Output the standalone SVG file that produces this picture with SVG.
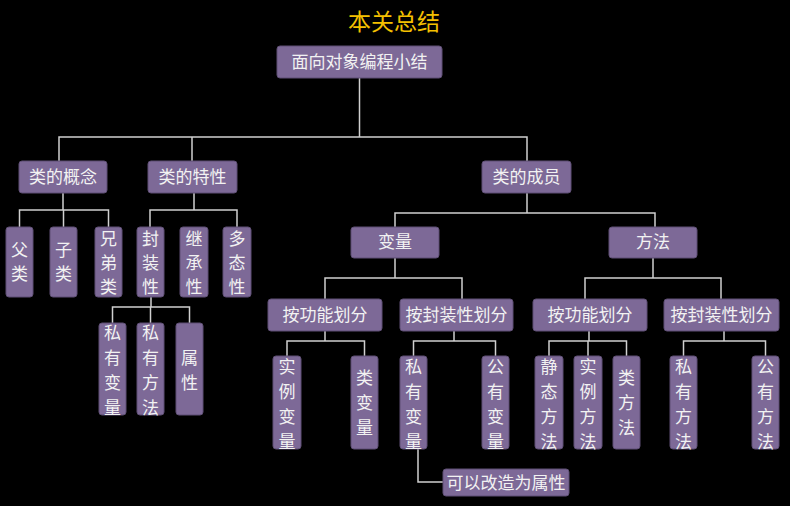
<svg xmlns="http://www.w3.org/2000/svg" width="790" height="506" viewBox="0 0 790 506">
<style>
.bg{fill:#000}
.box{fill:#7D6997;stroke:#5E4F74;stroke-width:1}
.t{font-family:"Noto Sans CJK SC","Noto Sans",sans-serif;font-size:17px;fill:#F2F2F2;text-anchor:middle}
.title{font-family:"Noto Sans CJK SC","Noto Sans",sans-serif;font-size:23px;fill:#F5C000;text-anchor:middle}
.ln{fill:none;stroke:#D0D0D0;stroke-width:1.5}
</style>
<rect class="bg" x="0" y="0" width="790" height="506"/>
<text class="title" x="394" y="30">本关总结</text>
<g id="connectors">
<path class="ln" d="M359.5 78V137M59 161V137H527V161M192 137V161"/>
<path class="ln" d="M63 193V210M19.5 227V210H108.5V227M63.5 210V227"/>
<path class="ln" d="M194 193V210M150 227V210H237V227"/>
<path class="ln" d="M151 297V307M112.5 323V307H189.5V323M150.5 307V323"/>
<path class="ln" d="M527 193V213M395 227V213H655V227"/>
<path class="ln" d="M395 258V278M325 299V278H462V299"/>
<path class="ln" d="M325 331V341M287 356V341H364.5V356"/>
<path class="ln" d="M454 331V341M413.5 356V341H495.5V356"/>
<path class="ln" d="M418 449V482H443"/>
<path class="ln" d="M653 258V278M585 299V278H721V299"/>
<path class="ln" d="M589 331V341M549 356V341H626.5V356M588 341V356"/>
<path class="ln" d="M724 331V341M683.5 356V341H765.5V356"/>
</g>
<g id="root"><rect class="box" x="277" y="46" width="165" height="32" rx="3"/><text class="t" x="359.5" y="68">面向对象编程小结</text></g>
<g id="n-concept"><rect class="box" x="19" y="161" width="88" height="32" rx="3"/><text class="t" x="63" y="183">类的概念</text></g>
<g id="n-feature"><rect class="box" x="148" y="161" width="89" height="32" rx="3"/><text class="t" x="192.5" y="183">类的特性</text></g>
<g id="n-member"><rect class="box" x="482" y="161" width="89" height="32" rx="3"/><text class="t" x="526.5" y="183">类的成员</text></g>
<g id="n-parent"><rect class="box" x="6" y="227" width="27" height="70" rx="3"/><text class="t" x="19.5"><tspan x="19.5" y="256">父</tspan><tspan x="19.5" y="280">类</tspan></text></g>
<g id="n-child"><rect class="box" x="50" y="227" width="27" height="70" rx="3"/><text class="t" x="63.5"><tspan x="63.5" y="256">子</tspan><tspan x="63.5" y="280">类</tspan></text></g>
<g id="n-sibling"><rect class="box" x="95" y="227" width="27" height="70" rx="3"/><text class="t" x="108.5"><tspan x="108.5" y="245">兄</tspan><tspan x="108.5" y="269">弟</tspan><tspan x="108.5" y="293">类</tspan></text></g>
<g id="n-encap"><rect class="box" x="137" y="227" width="27" height="70" rx="3"/><text class="t" x="150.5"><tspan x="150.5" y="245">封</tspan><tspan x="150.5" y="269">装</tspan><tspan x="150.5" y="293">性</tspan></text></g>
<g id="n-inherit"><rect class="box" x="180" y="227" width="28" height="70" rx="3"/><text class="t" x="194"><tspan x="194" y="245">继</tspan><tspan x="194" y="269">承</tspan><tspan x="194" y="293">性</tspan></text></g>
<g id="n-poly"><rect class="box" x="223" y="227" width="28" height="70" rx="3"/><text class="t" x="237"><tspan x="237" y="245">多</tspan><tspan x="237" y="269">态</tspan><tspan x="237" y="293">性</tspan></text></g>
<g id="n-privvar1"><rect class="box" x="99" y="323" width="27" height="92" rx="3"/><text class="t"><tspan x="112.5" y="339">私</tspan><tspan x="112.5" y="364">有</tspan><tspan x="112.5" y="389">变</tspan><tspan x="112.5" y="414">量</tspan></text></g>
<g id="n-privmeth1"><rect class="box" x="137" y="323" width="27" height="92" rx="3"/><text class="t"><tspan x="150.5" y="339">私</tspan><tspan x="150.5" y="364">有</tspan><tspan x="150.5" y="389">方</tspan><tspan x="150.5" y="414">法</tspan></text></g>
<g id="n-prop"><rect class="box" x="176" y="323" width="27" height="92" rx="3"/><text class="t"><tspan x="189.5" y="364">属</tspan><tspan x="189.5" y="389">性</tspan></text></g>
<g id="n-var"><rect class="box" x="351" y="227" width="88" height="31" rx="3"/><text class="t" x="395" y="248">变量</text></g>
<g id="n-meth"><rect class="box" x="609" y="227" width="88" height="31" rx="3"/><text class="t" x="653" y="248">方法</text></g>
<g id="n-var-func"><rect class="box" x="268" y="299" width="114" height="32" rx="3"/><text class="t" x="325" y="321">按功能划分</text></g>
<g id="n-var-enc"><rect class="box" x="400" y="299" width="113" height="32" rx="3"/><text class="t" x="456.5" y="321">按封装性划分</text></g>
<g id="n-meth-func"><rect class="box" x="533" y="299" width="114" height="32" rx="3"/><text class="t" x="590" y="321">按功能划分</text></g>
<g id="n-meth-enc"><rect class="box" x="664" y="299" width="115" height="32" rx="3"/><text class="t" x="721.5" y="321">按封装性划分</text></g>
<g id="n-instvar"><rect class="box" x="273" y="356" width="28" height="93" rx="3"/><text class="t"><tspan x="287" y="373">实</tspan><tspan x="287" y="398">例</tspan><tspan x="287" y="423">变</tspan><tspan x="287" y="448">量</tspan></text></g>
<g id="n-classvar"><rect class="box" x="351" y="356" width="27" height="93" rx="3"/><text class="t"><tspan x="364.5" y="384">类</tspan><tspan x="364.5" y="409">变</tspan><tspan x="364.5" y="434">量</tspan></text></g>
<g id="n-privvar2"><rect class="box" x="400" y="356" width="27" height="93" rx="3"/><text class="t"><tspan x="413.5" y="373">私</tspan><tspan x="413.5" y="398">有</tspan><tspan x="413.5" y="423">变</tspan><tspan x="413.5" y="448">量</tspan></text></g>
<g id="n-pubvar"><rect class="box" x="482" y="356" width="27" height="93" rx="3"/><text class="t"><tspan x="495.5" y="373">公</tspan><tspan x="495.5" y="398">有</tspan><tspan x="495.5" y="423">变</tspan><tspan x="495.5" y="448">量</tspan></text></g>
<g id="n-staticmeth"><rect class="box" x="535" y="356" width="28" height="93" rx="3"/><text class="t"><tspan x="549" y="373">静</tspan><tspan x="549" y="398">态</tspan><tspan x="549" y="423">方</tspan><tspan x="549" y="448">法</tspan></text></g>
<g id="n-instmeth"><rect class="box" x="574" y="356" width="28" height="93" rx="3"/><text class="t"><tspan x="588" y="373">实</tspan><tspan x="588" y="398">例</tspan><tspan x="588" y="423">方</tspan><tspan x="588" y="448">法</tspan></text></g>
<g id="n-classmeth"><rect class="box" x="613" y="356" width="27" height="93" rx="3"/><text class="t"><tspan x="626.5" y="384">类</tspan><tspan x="626.5" y="409">方</tspan><tspan x="626.5" y="434">法</tspan></text></g>
<g id="n-privmeth2"><rect class="box" x="670" y="356" width="27" height="93" rx="3"/><text class="t"><tspan x="683.5" y="373">私</tspan><tspan x="683.5" y="398">有</tspan><tspan x="683.5" y="423">方</tspan><tspan x="683.5" y="448">法</tspan></text></g>
<g id="n-pubmeth"><rect class="box" x="752" y="356" width="27" height="93" rx="3"/><text class="t"><tspan x="765.5" y="373">公</tspan><tspan x="765.5" y="398">有</tspan><tspan x="765.5" y="423">方</tspan><tspan x="765.5" y="448">法</tspan></text></g>
<g id="n-toprop"><rect class="box" x="443" y="469" width="126" height="27" rx="3"/><text class="t" x="506" y="489">可以改造为属性</text></g>
</svg>
